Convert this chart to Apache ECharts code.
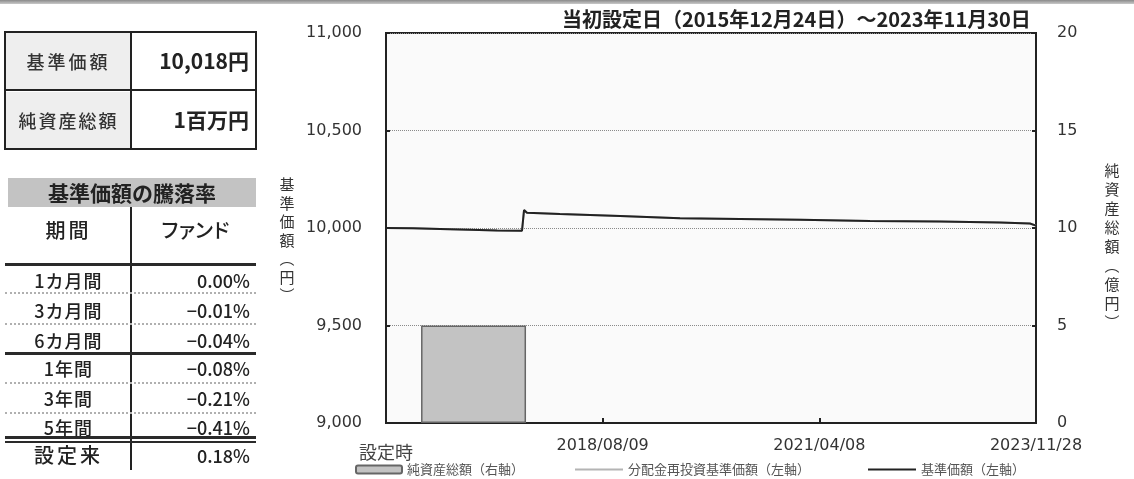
<!DOCTYPE html>
<html><head><meta charset="utf-8">
<script src="https://cdn.jsdelivr.net/npm/echarts@6/dist/echarts.min.js"></script>
<style>
html,body{margin:0;padding:0;background:#fff;}
#wrap{position:relative;width:1134px;height:479px;overflow:hidden;font-family:"Noto Sans CJK JP",sans-serif;color:#222;}
#chart{position:absolute;left:0;top:0;width:1134px;height:479px;}
.a{position:absolute;box-sizing:border-box;}
.t{position:absolute;white-space:nowrap;line-height:1;font-weight:500;}
.dot{position:absolute;left:5px;width:251px;height:0;border-top:2px dotted #b0b0b0;}
.sol{position:absolute;left:5px;width:251px;background:#2a2a2a;}
</style></head>
<body><div id="wrap">
<div id="chart"></div>
<div class="a" style="left:0;top:0;width:1134px;height:4px;background:linear-gradient(#8a8a8a,#c9c9c9);"></div>
<div id="tables"></div>
</div>
<script>
// ---- data ----
const baseDate = '2015-12-24';
const endDate = '2023-11-28';
const xTickLabels = ['設定時', '2018/08/09', '2021/04/08', '2023/11/28'];
const navDates = ['2015-12-24','2016-04-22','2016-08-21','2017-01-01','2017-05-02','2017-08-21','2017-08-30','2017-09-12','2018-02-06','2018-11-01','2019-07-26','2020-04-18','2021-01-11','2021-11-18','2022-09-26','2023-06-20','2023-11-01','2023-11-28'];
const navValues = [10000,9999,9995,9991,9987,9986,10092,10078,10072,10062,10050,10046,10042,10036,10033,10028,10023,10012];
const reinvValues = [10000,9999,9995,9991,9987,9986,10092,10078,10072,10062,10050,10046,10042,10036,10033,10028,10023,10012];
const assetDates = ['2017-01-17'];
const assetValues = [5];
const summaryLabels = ['基準価額', '純資産総額'];
const summaryValues = ['10,018円', '1百万円'];
const perfPeriods = ['1カ月間','3カ月間','6カ月間','1年間','3年間','5年間','設定来'];
const perfFund = ['0.00%','−0.01%','−0.04%','−0.08%','−0.21%','−0.41%','0.18%'];

// ---- helpers ----
function dayOf(s){const p=s.split('-').map(Number);const b=baseDate.split('-').map(Number);
  return Math.round((Date.UTC(p[0],p[1]-1,p[2])-Date.UTC(b[0],b[1]-1,b[2]))/86400000);}
const xMax = dayOf(endDate);
const xInt = xMax/3;
const FONT_J = '"Noto Sans CJK JP", sans-serif';
const FONT_N = '"DejaVu Sans", "Noto Sans CJK JP", sans-serif';

// ---- tables (HTML) ----
let h = '';
h += '<div class="a" style="left:6px;top:33px;width:125px;height:57px;background:#eeeeee"></div>';
h += '<div class="a" style="left:6px;top:92px;width:125px;height:56px;background:#eeeeee"></div>';
h += '<div class="a" style="left:4px;top:31px;width:253px;height:119px;border:2px solid #222"></div>';
h += '<div class="a" style="left:4px;top:89px;width:253px;height:2px;background:#222"></div>';
h += '<div class="a" style="left:130px;top:31px;width:2px;height:119px;background:#222"></div>';
const rowY1 = [61, 120];
summaryLabels.forEach((s,i)=>{
  h += `<div class="t" style="left:6px;width:125px;text-align:center;top:${rowY1[i]-9}px;font-size:18px;letter-spacing:${i?2:3}px;color:#333">${s}</div>`;
  h += `<div class="t" style="right:${1134-249}px;top:${rowY1[i]-11}px;font-size:21px;font-weight:bold;">${summaryValues[i]}</div>`;
});
h += '<div class="a" style="left:8px;top:178px;width:248px;height:29px;background:#c3c3c3"></div>';
h += '<div class="t" style="left:8px;width:248px;text-align:center;top:182px;font-size:21px;font-weight:bold;">基準価額の騰落率</div>';
h += '<div class="a" style="left:130px;top:207px;width:2px;height:263px;background:#222"></div>';
h += '<div class="t" style="left:6px;width:125px;text-align:center;top:220px;font-size:20px;letter-spacing:3px;">期間</div>';
h += '<div class="t" style="left:132px;width:124px;text-align:center;top:220px;font-size:20px;letter-spacing:-3px;">ファンド</div>';
h += '<div class="sol" style="top:263px;height:3px"></div>';
h += '<div class="dot" style="top:292px"></div>';
h += '<div class="dot" style="top:323px"></div>';
h += '<div class="sol" style="top:352px;height:3px"></div>';
h += '<div class="dot" style="top:382px"></div>';
h += '<div class="dot" style="top:412px"></div>';
h += '<div class="sol" style="top:436px;height:3px"></div>';
h += '<div class="sol" style="top:441px;height:2px"></div>';
const rowY2 = [280, 310, 340, 368, 398, 427, 455];
perfPeriods.forEach((p,i)=>{
  const last = i===perfPeriods.length-1;
  h += `<div class="t" style="left:6px;width:125px;text-align:center;top:${rowY2[i]-(last?10:9)}px;font-size:${last?20:18}px;letter-spacing:${last?3:1}px;">${p}</div>`;
  h += `<div class="t" style="right:${1134-250}px;top:${rowY2[i]-9}px;font-size:18px;">${perfFund[i]}</div>`;
});
document.getElementById('tables').innerHTML = h;

// ---- chart ----
const chart = echarts.init(document.getElementById('chart'), null, {renderer:'canvas'});
const navData = navDates.map((d,i)=>[dayOf(d), navValues[i]]);
const reinvData = navDates.map((d,i)=>[dayOf(d), reinvValues[i]]);
const assetData = assetDates.map((d,i)=>[dayOf(d), assetValues[i]]);
const legendText = {color:'#555', fontSize:13, fontFamily:FONT_J};
chart.setOption({
  animation:false,
  title:{text:'当初設定日（2015年12月24日）～2023年11月30日', left:557, top:4,
    textStyle:{fontSize:20, fontWeight:'bold', color:'#222', fontFamily:FONT_J}},
  grid:{left:386, right:98, top:33, bottom:56, show:true, backgroundColor:'#fafafa', borderColor:'#222', borderWidth:2},
  xAxis:{type:'value', min:0, max:xMax, interval:xInt,
    axisLine:{show:true, lineStyle:{color:'#222', width:2}},
    axisTick:{show:true, inside:true, length:5, lineStyle:{color:'#222', width:2}},
    splitLine:{show:false},
    axisLabel:{margin:15, color:'#333', fontSize:16, fontFamily:FONT_N,
      formatter:v=>{const i=Math.round(v/xInt); return i===0?'{a|'+xTickLabels[0]+'}':(xTickLabels[i]||'');},
      rich:{a:{fontSize:18, fontFamily:FONT_J, color:'#444', padding:[5,0,0,0]}}}},
  yAxis:[
    {type:'value', min:9000, max:11000, interval:500, position:'left',
      axisLine:{show:true, lineStyle:{color:'#222', width:2}},
      axisTick:{show:true, inside:true, length:4, lineStyle:{color:'#222', width:2}},
      splitLine:{show:true, lineStyle:{type:'dotted', color:'#8a8a8a', width:1}},
      axisLabel:{margin:24, color:'#333', fontSize:16, fontFamily:FONT_N, formatter:v=>v.toLocaleString('en-US')}},
    {type:'value', min:0, max:20, interval:5, position:'right',
      axisLine:{show:true, lineStyle:{color:'#222', width:2}},
      axisTick:{show:true, inside:true, length:4, lineStyle:{color:'#222', width:2}},
      splitLine:{show:false},
      axisLabel:{margin:21, color:'#333', fontSize:16, fontFamily:FONT_N}}
  ],
  legend:[
    {data:['純資産総額（右軸）'], left:355, top:463, padding:0, itemWidth:46, itemHeight:8, itemGap:6, textStyle:legendText},
    {data:['分配金再投資基準価額（左軸）'], left:575, top:463, padding:0, icon:'rect', itemWidth:48, itemHeight:2, textStyle:legendText},
    {data:['基準価額（左軸）'], left:868, top:463, padding:0, icon:'rect', itemWidth:48, itemHeight:2, textStyle:legendText}
  ],
  series:[
    {name:'純資産総額（右軸）', type:'bar', yAxisIndex:1, data:assetData, barWidth:105,
      itemStyle:{color:'#c3c3c3', borderColor:'#666', borderWidth:1.5}},
    {name:'分配金再投資基準価額（左軸）', type:'line', data:reinvData, symbol:'none',
      lineStyle:{color:'#b4b4b4', width:2}, itemStyle:{color:'#b4b4b4'}},
    {name:'基準価額（左軸）', type:'line', data:navData, symbol:'none',
      lineStyle:{color:'#222', width:2}, itemStyle:{color:'#222'}}
  ],
  graphic:[
    {type:'text', x:287, y:240, style:{text:'基\n準\n価\n額\n︵\n円\n︶', align:'center', verticalAlign:'middle',
      lineHeight:18.5, fontSize:15, fill:'#333', fontFamily:FONT_J}},
    {type:'text', x:1112, y:246, style:{text:'純\n資\n産\n総\n額\n︵\n億\n円\n︶', align:'center', verticalAlign:'middle',
      lineHeight:19, fontSize:15, fill:'#333', fontFamily:FONT_J}}
  ]
});
</script>
</body></html>
